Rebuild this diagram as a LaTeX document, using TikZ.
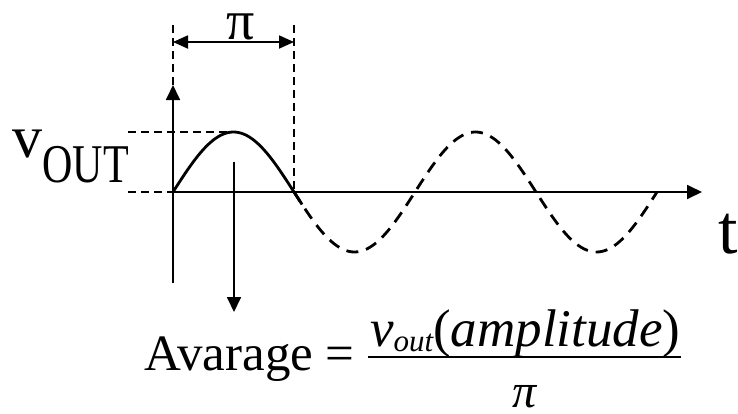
\documentclass[tikz,border=0pt]{standalone}
\usepackage{fontspec}
\setmainfont{Liberation Serif}
\usepackage{graphicx}
\usetikzlibrary{arrows.meta,calc}

\begin{document}
\begin{tikzpicture}[x=1pt,y=-1pt,
    axis/.style={line width=1.8pt,-{Triangle[length=15pt,width=14pt]}},
    guide/.style={line width=1.6pt,dash pattern=on 8pt off 5pt},
    wave/.style={line width=2.8pt},
    lbl/.style={inner sep=0pt,anchor=base west}]
    \useasboundingbox (0,0) rectangle (738,413);
    % axes
    \coordinate (O) at (173,192);
    \coordinate (ytop) at (173,85);
    \coordinate (ybot) at (173,283);
    \coordinate (xend) at (702,192);
    \coordinate (P) at (294,192);
    \coordinate (pk) at (234,132);
    \draw[axis] (ybot) -- (ytop);
    \draw[axis] (O) -- (xend);
    % guides
    \coordinate (gl) at (173,25);
    \coordinate (gr) at (294,25);
    \draw[guide] (gl) -- (ytop);
    \draw[guide] (gr) -- (P);
    \draw[guide] (128,132) -- (pk);
    \draw[guide] (128,192) -- (O);
    \draw[line width=1.8pt,{Triangle[length=15pt,width=13pt]}-{Triangle[length=15pt,width=13pt]}] (173,42) -- (294,42);
    \node[anchor=base,inner sep=0pt,text height=28pt,font=\fontsize{56}{56}\selectfont] (pi) at (241,39) {π};
    % wave
    \draw[wave] plot[smooth,samples=60,domain=0:192] ({173+\x/180*121},{192-60*sin(\x)});
    \draw[wave,dash pattern=on 12pt off 8pt] plot[smooth,samples=120,domain=180:720]
        ({173+\x/180*121},{192-60*sin(\x)});
    % average arrow
    \coordinate (tk) at (234,162);
    \coordinate (tkend) at (234,312);
    \draw[axis] (tk) -- (tkend);
    % labels
    \node[lbl,font=\fontsize{60}{60}\selectfont] (v) at (12,157) {v};
    \node[lbl,font=\fontsize{42}{42}\selectfont] (out) at ($(v.base east)+(0,25)$) {\scalebox{1}[1.3]{OUT}};
    \node[lbl,font=\fontsize{70}{70}\selectfont] (t) at (718,253) {t};
    % formula
    \node[lbl,font=\fontsize{51}{51}\selectfont] (avg) at (144,370) {Avarage};
    \node[lbl,font=\fontsize{51}{51}\selectfont] (eq) at (325,370) {=};
    \coordinate (barL) at (368,357);
    \node[lbl,font=\fontsize{53}{53}\selectfont\itshape] (num) at (370,346)
        {v\raisebox{-5pt}{\fontsize{31}{31}\selectfont out}\upshape(\itshape amplitude\upshape)};
    \coordinate (barR) at (barL -| num.east);
    \draw[line width=2pt] (barL) -- (barR);
    \node[anchor=base,inner sep=0pt,text depth=0pt,text height=24pt,font=\fontsize{48}{48}\selectfont\itshape] (den)
        at ($(barL)!0.5!(barR)+(0,50)$) {π};
\end{tikzpicture}
\end{document}
